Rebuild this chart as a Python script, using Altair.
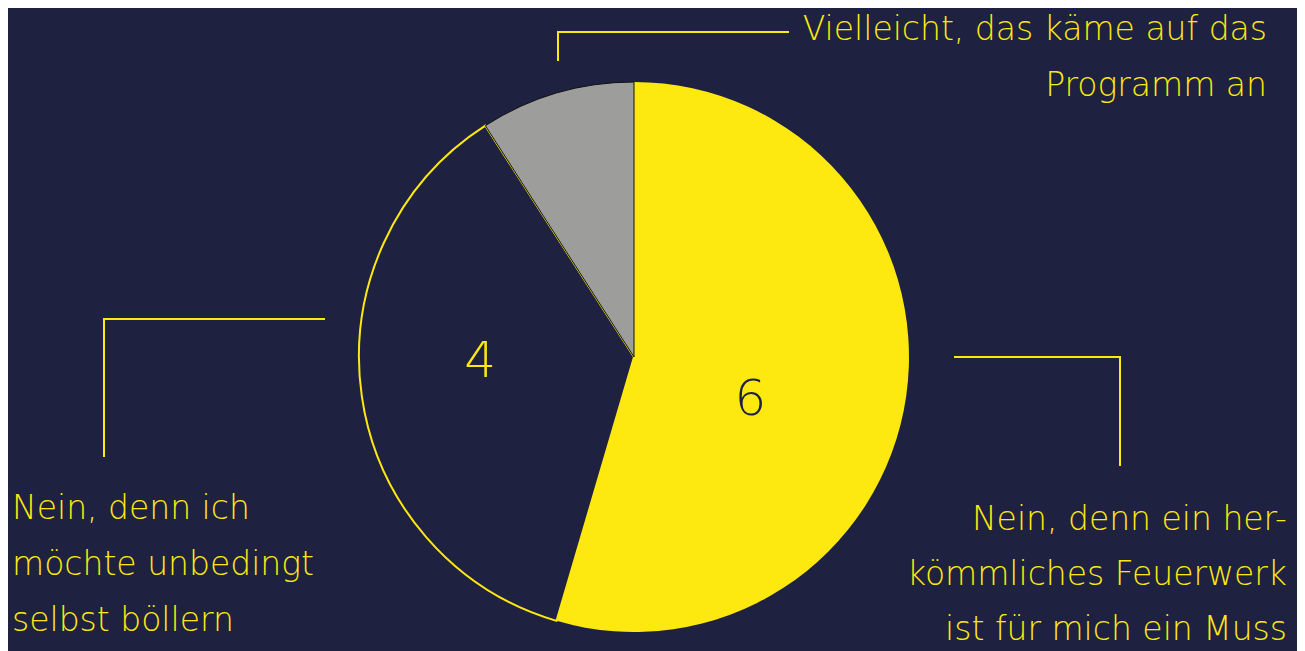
import altair as alt
import pandas as pd

# --- data ---
categories = ["Nein, denn ein herkömmliches Feuerwerk ist für mich ein Muss",
              "Nein, denn ich möchte unbedingt selbst böllern",
              "Vielleicht, das käme auf das Programm an"]
values = [6, 4, 1]
fills = ["#fde910", "#1e2140", "#9d9d9b"]
strokes = ["#fde910", "#fde910", "#111111"]
stroke_widths = [0, 2, 1]
value_labels = ["6", "4", ""]

# annotation label lines
top_lines = ["Vielleicht, das käme auf das", "Programm an"]
left_lines = ["Nein, denn ich", "möchte unbedingt", "selbst böllern"]
right_lines = ["Nein, denn ein her-", "kömmliches Feuerwerk", "ist für mich ein Muss"]

# leader lines (annotation connectors)
leader_ids = ["top", "top", "top", "left", "left", "left", "right", "right", "right"]
leader_x = [550, 550, 780, 96, 96, 316, 947, 1112, 1112]
leader_y = [52, 24, 24, 448, 311, 311, 349, 349, 457]

W, H = 1289, 643
BG = "#1e2140"
YEL = "#fde910"
FONT = "DejaVu Sans"

pie_df = pd.DataFrame({
    "cat": categories, "value": values, "fill": fills,
    "stroke": strokes, "sw": stroke_widths, "label": value_labels,
    "order": [0, 1, 2],
})

cx, cy, R = 626, 349, 275

pie = alt.Chart(pie_df).mark_arc(outerRadius=R).encode(
    theta=alt.Theta("value:Q", stack=True),
    order=alt.Order("order:Q"),
    fill=alt.Color("fill:N", scale=None),
    stroke=alt.Color("stroke:N", scale=None),
    strokeWidth=alt.StrokeWidth("sw:Q", scale=None),
    x=alt.value(cx), y=alt.value(cy),
)

lab4 = alt.Chart(pie_df).mark_text(
    font=FONT, fontWeight=200, fontSize=50, color=YEL, radius=154, thetaOffset=0.11,
).encode(theta=alt.Theta("value:Q", stack=True), order=alt.Order("order:Q"),
         text=alt.Text("l4:N"), x=alt.value(cx), y=alt.value(cy)).transform_calculate(
    l4="datum.label == '4' ? '4' : ''")

lab6 = alt.Chart(pie_df).mark_text(
    font=FONT, fontWeight=200, fontSize=50, color=BG, radius=124, thetaOffset=0.21,
).encode(theta=alt.Theta("value:Q", stack=True), order=alt.Order("order:Q"),
         text=alt.Text("l6:N"), x=alt.value(cx), y=alt.value(cy)).transform_calculate(
    l6="datum.label == '6' ? '6' : ''")

xs = alt.Scale(domain=[0, W])
ys = alt.Scale(domain=[0, H], reverse=True)

lead_df = pd.DataFrame({"id": leader_ids, "x": leader_x, "y": leader_y,
                        "o": list(range(len(leader_x)))})
leaders = alt.Chart(lead_df).mark_line(color=YEL, strokeWidth=2, strokeCap="square").encode(
    x=alt.X("x:Q", scale=xs, axis=None),
    y=alt.Y("y:Q", scale=ys, axis=None),
    detail="id:N", order="o:Q",
)

rows = []
for i, t in enumerate(top_lines):
    rows.append({"t": t, "x": 1259, "y": 22 + 56 * i, "a": "right"})
for i, t in enumerate(left_lines):
    rows.append({"t": t, "x": 4, "y": 501 + 56 * i, "a": "left"})
for i, t in enumerate(right_lines):
    rows.append({"t": t, "x": 1279, "y": 512 + 55 * i, "a": "right"})
txt_df = pd.DataFrame(rows)

def text_layer(align):
    return alt.Chart(txt_df).transform_filter(alt.datum.a == align).mark_text(
        font=FONT, fontWeight=200, fontSize=33, color=YEL, align=align, baseline="middle",
    ).encode(x=alt.X("x:Q", scale=xs, axis=None),
             y=alt.Y("y:Q", scale=ys, axis=None), text="t:N")

chart = alt.layer(pie, lab4, lab6, leaders, text_layer("left"), text_layer("right")).properties(
    width=W, height=H, background=BG, padding=0,
    autosize=alt.AutoSizeParams(type="none"),
).configure_view(stroke=None)

chart.save("out.html", embed_options={"renderer": "svg", "actions": False})
